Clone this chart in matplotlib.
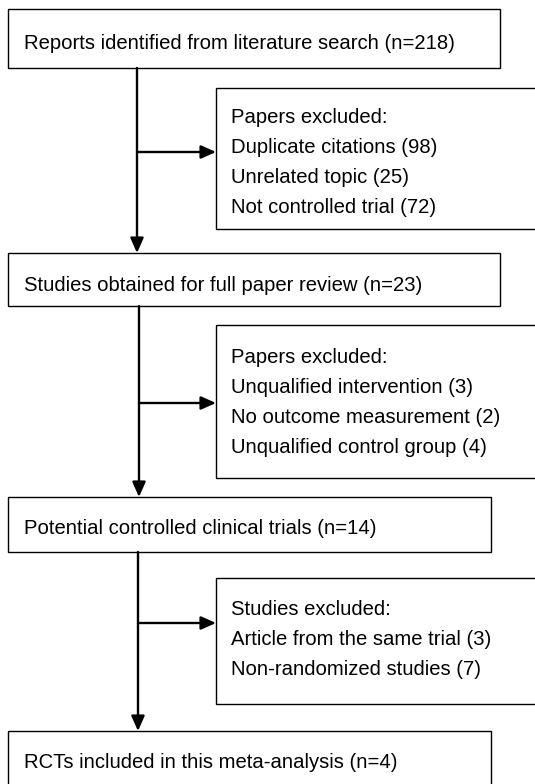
import matplotlib
matplotlib.use('Agg')
import matplotlib.pyplot as plt
from matplotlib.patches import Rectangle

plt.rcParams['font.family'] = ['Liberation Sans', 'DejaVu Sans']

# flow stages (main column) and the exclusions branching off each step
stages = ['Reports identified from literature search (n=218)',
          'Studies obtained for full paper review (n=23)',
          'Potential controlled clinical trials (n=14)',
          'RCTs included in this meta-analysis (n=4)']
excl_titles = ['Papers excluded:', 'Papers excluded:', 'Studies excluded:']
excl_items = [['Duplicate citations (98)', 'Unrelated topic (25)', 'Not controlled trial (72)'],
              ['Unqualified intervention (3)', 'No outcome measurement (2)', 'Unqualified control group (4)'],
              ['Article from the same trial (3)', 'Non-randomized studies (7)']]

# layout in pixel units of the 535x784 image
main_boxes = [(8, 9, 500, 68), (8, 253, 500, 306), (8, 497, 491, 552), (8, 731, 491, 800)]
main_base = [49, 291, 534, 768]
side_boxes = [(216, 88, 545, 229), (216, 325, 545, 478), (216, 578, 545, 704)]
side_base = [123, 363, 615]
arrow_y = [152, 403, 623]
trunk_x = [137, 139, 138]
line_gap = 30

fig = plt.figure(figsize=(5.35, 7.84), dpi=100)
ax = fig.add_axes([0, 0, 1, 1])
ax.set_xlim(0, 535)
ax.set_ylim(784, 0)
ax.axis('off')

fs = 14.6

for i, (x0, y0, x1, y1) in enumerate(main_boxes):
    ax.add_patch(Rectangle((x0, y0), x1 - x0, y1 - y0, fill=False, lw=1.0, ec='black'))
    t = ax.text(24, main_base[i], stages[i], fontsize=fs, va='baseline', ha='left')
    if i == 1:
        # the second label is cut off right at its baseline in the original
        clip = Rectangle((x0, y0), x1 - x0, 291.8 - y0, transform=ax.transData)
        t.set_clip_path(clip)

for i, (x0, y0, x1, y1) in enumerate(side_boxes):
    ax.add_patch(Rectangle((x0, y0), x1 - x0, y1 - y0, fill=False, lw=1.0, ec='black'))
    lines = [excl_titles[i]] + excl_items[i]
    for k, s in enumerate(lines):
        ax.text(231, side_base[i] + k * line_gap, s, fontsize=fs, va='baseline', ha='left')

arrow_kw = dict(arrowstyle='-|>,head_length=0.9,head_width=0.4', color='black', lw=1.7,
                shrinkA=0, shrinkB=0)
for i in range(3):
    x = trunk_x[i]
    top = main_boxes[i][3]
    bottom = main_boxes[i + 1][1]
    ax.annotate('', xy=(x, bottom), xytext=(x, top), arrowprops=arrow_kw)
    ax.annotate('', xy=(side_boxes[i][0], arrow_y[i]), xytext=(x, arrow_y[i]), arrowprops=arrow_kw)

fig.savefig('out.png', dpi=100, facecolor='white')
